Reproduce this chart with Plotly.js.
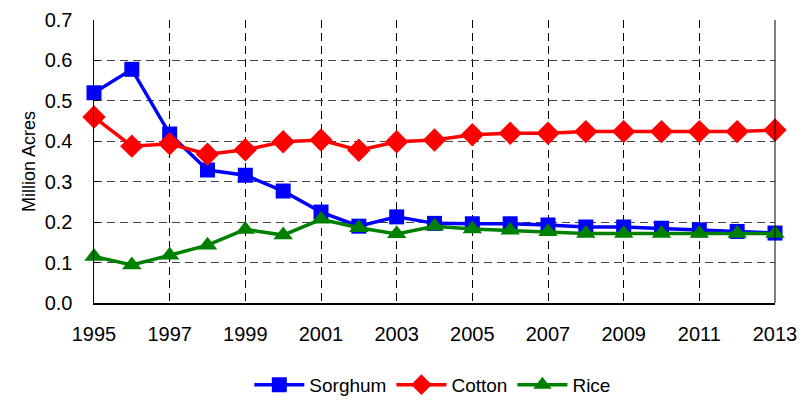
<!DOCTYPE html>
<html>
<head>
<meta charset="utf-8">
<script src="https://cdn.plot.ly/plotly-3.0.1.min.js"></script>
<style>html,body{margin:0;padding:0;background:#fff;}#chart{width:809px;height:400px;}</style>
</head>
<body>
<div id="chart"></div>
<script>
const years = [1995,1996,1997,1998,1999,2000,2001,2002,2003,2004,2005,2006,2007,2008,2009,2010,2011,2012,2013];
const sorghum = [0.52,0.578,0.418,0.329,0.316,0.277,0.225,0.19,0.213,0.197,0.196,0.196,0.193,0.188,0.188,0.185,0.181,0.177,0.173];
const cotton = [0.46,0.388,0.394,0.368,0.379,0.399,0.403,0.378,0.399,0.403,0.416,0.42,0.42,0.424,0.424,0.424,0.424,0.424,0.428];
const rice = [0.115,0.094,0.118,0.143,0.182,0.168,0.207,0.186,0.171,0.19,0.183,0.18,0.176,0.172,0.172,0.172,0.172,0.172,0.172];
const seriesNames = ['Sorghum','Cotton','Rice'];

const font = 'Arial, "Liberation Sans", sans-serif';
const traces = [
  {x: years, y: sorghum, name: seriesNames[0], mode: 'lines+markers', cliponaxis: false,
   line: {color: '#0000FF', width: 3.5}, marker: {symbol: 'square', size: 15, color: '#0000FF'}},
  {x: years, y: cotton, name: seriesNames[1], mode: 'lines+markers', cliponaxis: false,
   line: {color: '#FF0000', width: 3.5}, marker: {symbol: 'diamond', size: 18, color: '#FF0000'}},
  {x: years, y: rice, name: seriesNames[2], mode: 'lines+markers', cliponaxis: false,
   line: {color: '#008000', width: 3.5}, marker: {symbol: 'triangle-up', size: 17, color: '#008000'}}
];

const layout = {
  width: 809, height: 400,
  margin: {l: 94, r: 34, t: 20, b: 97, autoexpand: false},
  paper_bgcolor: '#fff', plot_bgcolor: '#fff',
  font: {family: font, size: 19, color: '#000'},
  showlegend: true,
  legend: {orientation: 'h', x: 0.535, xref: 'container', xanchor: 'center',
           y: 0.038, yref: 'container', yanchor: 'middle',
           font: {family: font, size: 19, color: '#000'}, itemwidth: 50, tracegroupgap: 0},
  xaxis: {range: [1995, 2013], tick0: 1995, dtick: 2, showgrid: true,
          gridcolor: '#000', gridwidth: 1, griddash: '8px,5px',
          showline: true, linecolor: '#000', linewidth: 1.5, ticks: '', zeroline: false,
          ticklabelstandoff: 12,
          tickfont: {family: font, size: 20, color: '#000'}},
  yaxis: {range: [0, 0.7], dtick: 0.1, tickformat: '.1f', showgrid: true,
          gridcolor: '#444', gridwidth: 1, griddash: '8px,5px',
          showline: true, linecolor: '#000', linewidth: 1.5, ticks: 'inside', ticklen: 5, tickcolor: '#000',
          zeroline: false, ticklabelstandoff: 16, tickfont: {family: font, size: 20, color: '#000'},
          title: {text: 'Million Acres', font: {family: font, size: 18, color: '#000'}, standoff: 4}},
  shapes: [{type: 'line', xref: 'paper', yref: 'paper', x0: 1, x1: 1, y0: 0, y1: 1,
            line: {color: '#000', width: 1}}]
};

Plotly.newPlot('chart', traces, layout, {displayModeBar: false, staticPlot: true});
</script>
</body>
</html>
